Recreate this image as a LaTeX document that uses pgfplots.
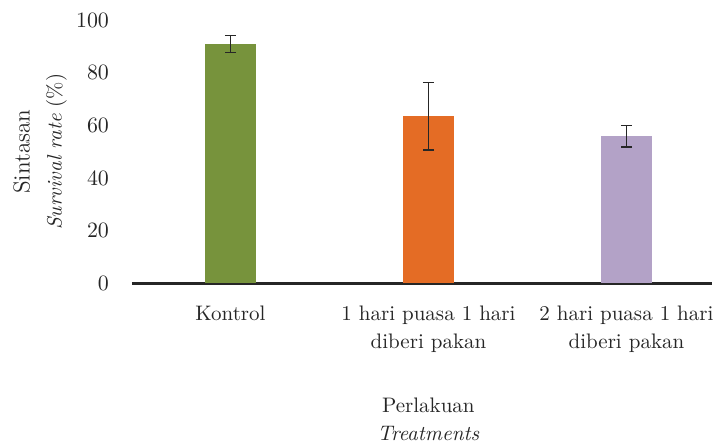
\documentclass[border=0pt]{standalone}
\usepackage{pgfplots}
\pgfplotsset{compat=1.18}
\definecolor{cgreen}{HTML}{77933C}
\definecolor{corange}{HTML}{E46C25}
\definecolor{cpurple}{HTML}{B3A2C7}
\definecolor{cdark}{HTML}{262626}
\begin{document}
\begin{tikzpicture}
\useasboundingbox (-66pt,-79.75pt) rectangle (291pt,141.75pt);
\begin{axis}[
  scale only axis,
  width=290pt, height=131.75pt,
  xmin=-0.4975, xmax=2.432,
  ymin=0, ymax=100,
  ytick={0,20,...,100},
  xtick={0,1,2},
  xticklabels={Kontrol, {1 hari puasa 1 hari\\diberi pakan}, {2 hari puasa 1 hari\\diberi pakan}},
  major tick length=0pt,
  axis x line*=bottom, axis y line*=left,
  y axis line style={draw=none},
  x axis line style={line width=1.1pt, draw=cdark, -},
  font=\fontsize{10.5}{14.5}\selectfont,
  yticklabel style={font=\fontsize{10.5}{14.5}\selectfont, xshift=-8pt, text=cdark},
  xticklabel style={font=\fontsize{10.5}{14}\selectfont, align=center, anchor=north, inner sep=0pt, yshift=-11pt, text=cdark},
  xlabel={Perlakuan\\\textit{Treatments}},
  ylabel={{\fontsize{11.6}{16}\selectfont Sintasan}\\{\fontsize{10.4}{16}\selectfont\textit{Survival rate} (\%)}},
  every axis x label/.style={at={(axis description cs:0.511,0)}, anchor=north, yshift=-57pt, align=center, inner sep=0pt, font=\fontsize{10.5}{14}\selectfont, text=cdark},
  every axis y label/.style={at={(axis description cs:-0.1586,0.5)}, rotate=90, anchor=center, align=center, inner sep=0pt, font=\fontsize{10.5}{16}\selectfont, text=cdark},
  ybar, bar width=0.258, bar shift=0pt,
  clip=false,
  error bars/error bar style={line width=0.8pt, cdark},
  error bars/error mark options={rotate=90, mark size=2.8pt, line width=0.8pt, cdark},
]
\addplot[fill=cgreen, draw=none, error bars/.cd, y dir=both, y explicit]
  coordinates {(0,90.9) +- (0,3.2)};
\addplot[fill=corange, draw=none, error bars/.cd, y dir=both, y explicit]
  coordinates {(1,63.5) +- (0,12.75)};
\addplot[fill=cpurple, draw=none, error bars/.cd, y dir=both, y explicit]
  coordinates {(2,55.9) +- (0,4.0)};
\end{axis}
\end{tikzpicture}
\end{document}
